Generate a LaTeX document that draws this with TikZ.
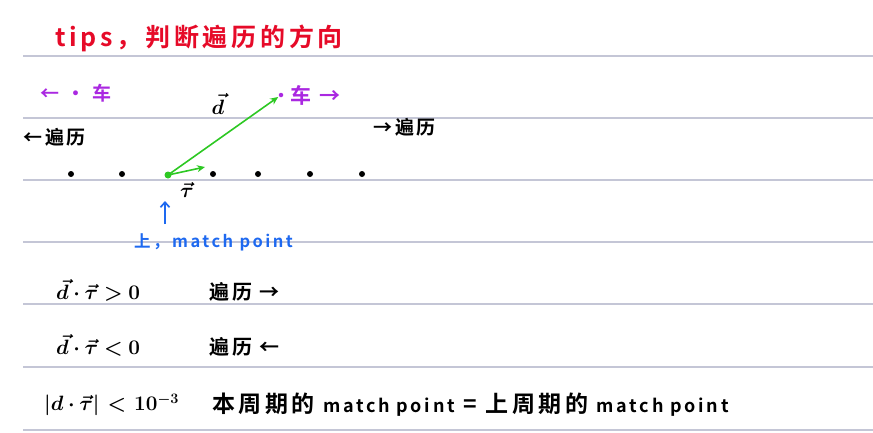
\documentclass[tikz,border=0pt]{standalone}
\usepackage{amsmath}
\usepackage{bm}
\usepackage{fontspec}
\newfontfamily\hand{Noto Sans CJK SC}[LetterSpace=15, BoldFont=* Bold]
\usetikzlibrary{arrows.meta,positioning}
\definecolor{inkred}{RGB}{230,10,40}
\definecolor{inkpurple}{RGB}{170,40,225}
\definecolor{inkgreen}{RGB}{45,200,35}
\definecolor{inkblue}{RGB}{30,105,240}
\definecolor{ruleline}{RGB}{196,198,214}
\newcommand{\fs}[1]{\fontsize{#1}{#1}\selectfont}

\begin{document}
\begin{tikzpicture}[x=1pt, y=-1pt, font=\hand,
    note/.style={inner sep=0pt, anchor=west},
    dotpt/.style={circle, fill=black, inner sep=0pt, minimum size=6pt},
    vecarrow/.style={-{Stealth[length=8pt, width=7pt]}, line width=1.6pt, inkgreen},
    uparrow/.style={-{Straight Barb[length=5pt, width=9pt]}, line width=1.7pt, inkblue}]
    \useasboundingbox (0,0) rectangle (873,432);
    % notebook lines first
    \foreach \y in {56,118,180,242,304,367,430}
        \draw[ruleline, line width=1.2pt] (23,\y) -- (873,\y);
    % title
    \node[note, inkred, font=\hand\bfseries\fs{25}] (title) at (55,38) {tips，判断遍历的方向};
    % purple car marks
    \node[note, inkpurple, font=\hand\bfseries\fs{19}] (carleft) at (40,93) {← · 车};
    \node[circle, fill=inkpurple, inner sep=0pt, minimum size=4.5pt] (car) at (281,95) {};
    \node[note, inkpurple, font=\hand\bfseries\fs{21}] (carright) at (290,95) {车 →};
    % traversal hints
    \node[note, font=\hand\bfseries\fs{19}] (goleft) at (23,137) {←遍历};
    \node[note, font=\hand\bfseries\fs{19}] (goright) at (373,127) {→遍历};
    % path points
    \foreach \i/\px in {1/71,2/122,4/213,5/258,6/310,7/362}
        \node[dotpt] (p\i) at (\px,174) {};
    \node[dotpt, fill=inkgreen, minimum size=7pt] (p3) at (168,175) {};
    \coordinate (tau) at (205,167);
    % vectors
    \draw[vecarrow, shorten >=1pt] (p3.center) -- (car);
    \draw[vecarrow] (p3.center) -- (tau);
    \node[font=\fs{21}] (dlabel) at (218,104) {$\bm{\vec{d}}$};
    \node[font=\fs{21}] (taulabel) at (187,190) {$\bm{\vec{\tau}}$};
    % last match point
    \node[note, inkblue, font=\hand\bfseries\fs{16.5}] (mp) at (134,242) {上，match point};
    \coordinate (mpbase) at (165,224);
    \draw[uparrow] (mpbase) -- (165,201);
    % rules
    \node[note, font=\fs{21}] (pos) at (56,290) {$\bm{\vec{d}\cdot\vec{\tau}>0}$};
    \node[note, font=\hand\bfseries\fs{20}] (posdir) at (209,292) {遍历 →};
    \node[note, font=\fs{21}] (neg) at (56,345) {$\bm{\vec{d}\cdot\vec{\tau}<0}$};
    \node[note, font=\hand\bfseries\fs{20}] (negdir) at (209,347) {遍历 ←};
    \node[note, font=\fs{21}] (keep) at (44,405)
        {$\bm{|d}\bm{\cdot}\bm{\vec{\tau}|}\mskip2mu\bm{<}\mskip2mu\bm{10^{-3}}$};
    \node[note, font=\hand\bfseries\fs{23}] (same) at (212,405)
        {本周期的 {\fs{18}match point} = 上周期的 {\fs{18}match point}};
\end{tikzpicture}
\end{document}
